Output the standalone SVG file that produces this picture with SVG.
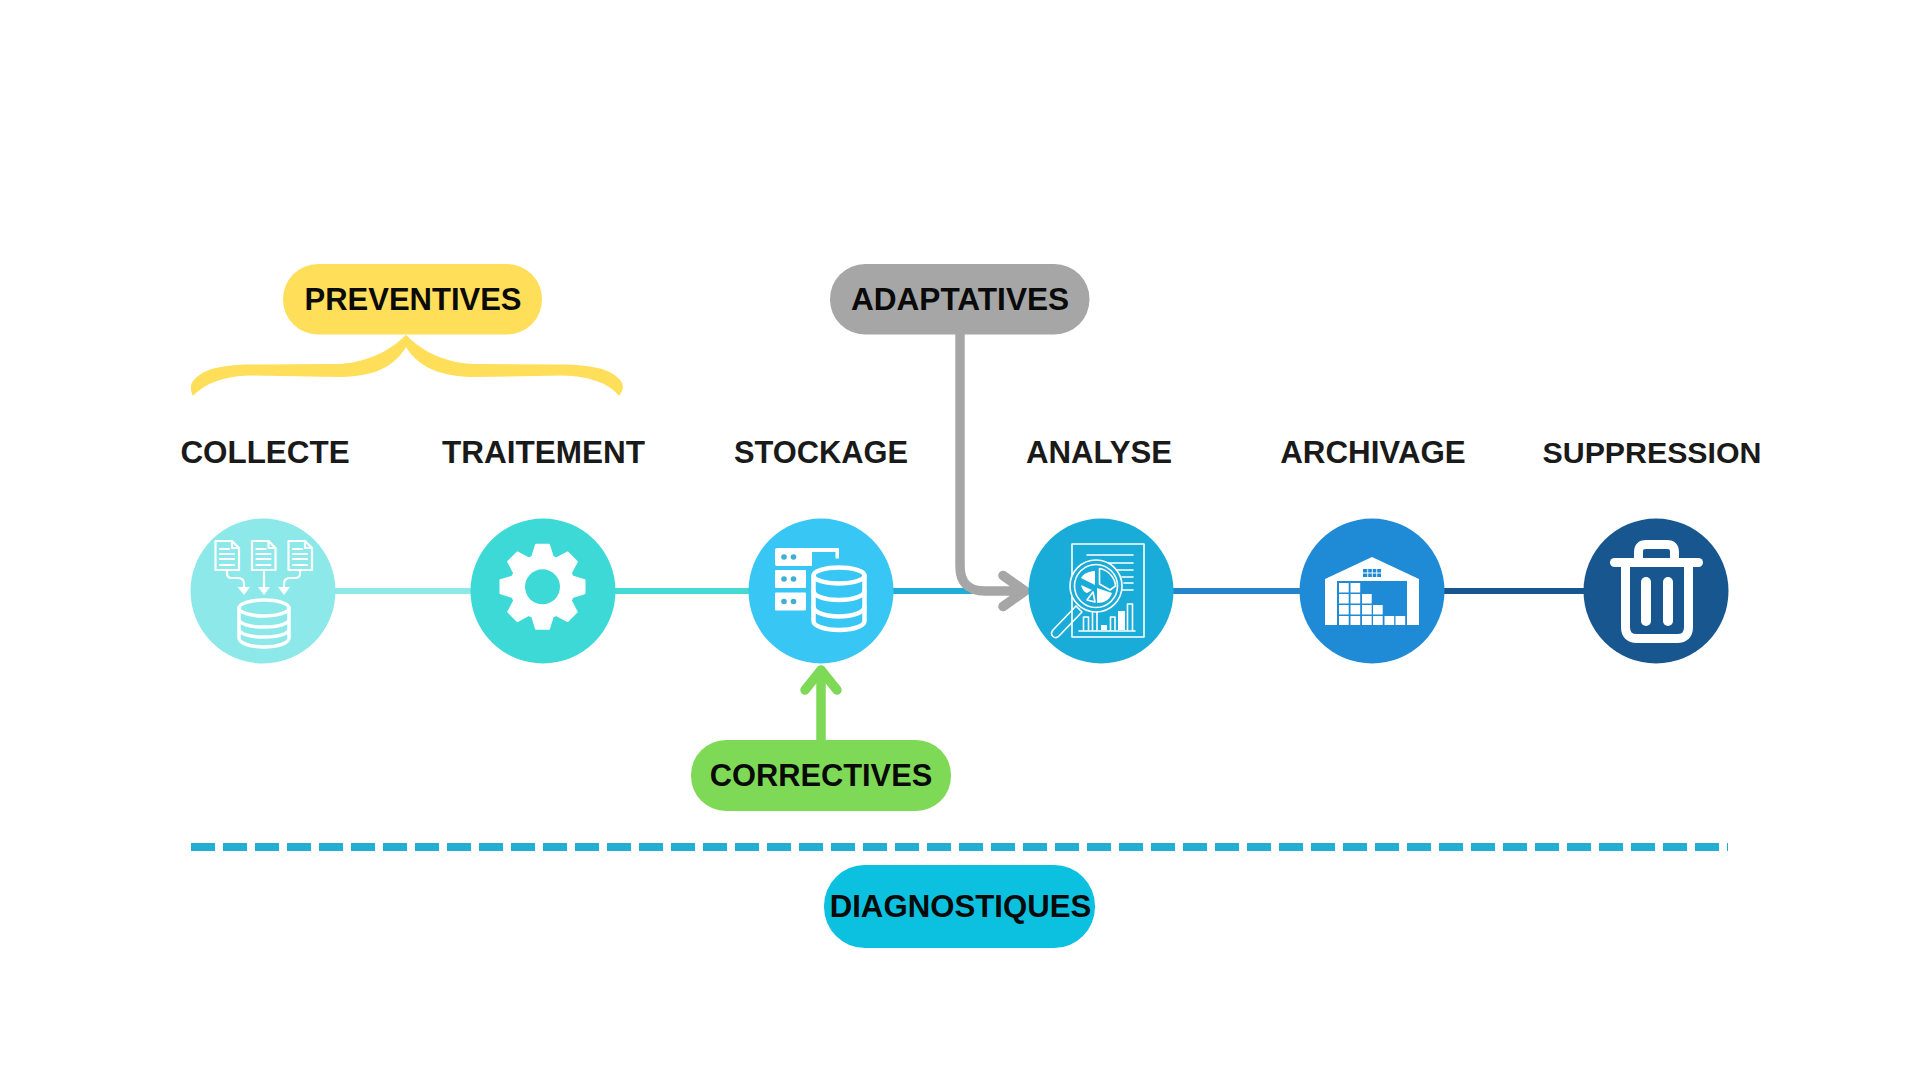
<svg xmlns="http://www.w3.org/2000/svg" xmlns:xlink="http://www.w3.org/1999/xlink" width="1920" height="1080" viewBox="0 0 1920 1080">
<defs>
<style>
text{font-family:"Liberation Sans",Arial,sans-serif;font-weight:700;text-anchor:middle}
.lbl{fill:#1a1a1a}
.pill{fill:#0a0a0a}
.w{fill:#fff}
.o{fill:none;stroke:#fff;stroke-linecap:round;stroke-linejoin:round}
.seg{fill:none;stroke-width:6}
.arr{fill:none;stroke-linecap:round;stroke-linejoin:round;stroke-width:9.500}
</style>
</defs>
<rect width="1920" height="1080" fill="#fff"/>
<g id="connectors">
<path class="seg" stroke="#8DE9E9" d="M263 591H543"/>
<path class="seg" stroke="#45D9D6" d="M543 591H821"/>
<path class="seg" stroke="#1FACD6" d="M821 591H1101"/>
<path class="seg" stroke="#2585CC" d="M1101 591H1372"/>
<path class="seg" stroke="#17568F" d="M1372 591H1656"/>
<path class="arr" stroke="#A6A6A6" d="M960 334V566Q960 591 985 591H1024M1003 575.500L1025 591L1003 606.500"/>
<path class="arr" stroke="#7ED957" stroke-linecap="butt" d="M821 741V672"/>
<path class="arr" stroke="#7ED957" d="M805 690L821 670L837 690"/>
<path fill="none" stroke="#22AED1" stroke-width="8" stroke-dasharray="24 8" d="M191 847H1728"/>
</g>
<g id="brace-preventives">
<path fill="#FFDE59" d="M193 396C190 390 190 384 194 380C204 368 224 365 250 364.500L337 364C365 363 389 352 406 335C423 352 445 363 475 364L562 364.500C590 365 610 368 620 380C624 384 624 390 619 396C610 384 590 376 562 375.500L475 377C450 377 421 372 406 347C391 372 365 377 337 377L250 375.500C224 376 204 384 193 396Z"/>
</g>
<g id="pill-preventives">
<rect x="283" y="264" width="259" height="70.500" rx="35" fill="#FFDE59"/>
<text class="pill" x="413" y="310" font-size="31">PREVENTIVES</text>
</g>
<g id="pill-adaptatives">
<rect x="830" y="264" width="259.500" height="70.500" rx="35" fill="#A6A6A6"/>
<text class="pill" x="960" y="310" font-size="31.600">ADAPTATIVES</text>
</g>
<g id="pill-correctives">
<rect x="691" y="740" width="260" height="71" rx="35" fill="#7ED957"/>
<text class="pill" x="821" y="786" font-size="30.800">CORRECTIVES</text>
</g>
<g id="pill-diagnostiques">
<rect x="824" y="865" width="271" height="83" rx="41" fill="#0CC0DF"/>
<text class="pill" x="960.500" y="917" font-size="31.200">DIAGNOSTIQUES</text>
</g>
<g id="node-collecte">
<text class="lbl" x="265" y="463" font-size="31.400">COLLECTE</text>
<circle cx="263" cy="591" r="72.500" fill="#8DE9E9"/>
<g class="o" stroke-width="2.200">
<g id="doc">
<path d="M215.500 541H232L239 548V570H215.500Z"/>
<path d="M232 541V548H239M220 549H229M220 554H234M220 559H234M220 565H234"/>
</g>
<use xlink:href="#doc" x="36.500"/>
<use xlink:href="#doc" x="73"/>
<path d="M227 570V574Q227 578 232 578H238Q244 578 244 584V588M264 570V588M300 570V574Q300 578 295 578H290Q284 578 284 584V588"/>
</g>
<path class="w" d="M237.500 587H250L244 595ZM258 587H270L264 595ZM278 587H290L284 595Z"/>
<g class="o" stroke-width="3.500">
<ellipse cx="264" cy="608" rx="25" ry="8"/>
<path d="M239 608V638C239 643 250 647 264 647S289 643 289 638V608M239 619C239 624 250 627 264 627S289 624 289 619M239 629C239 634 250 637 264 637S289 634 289 629"/>
</g>
</g>
<g id="node-traitement">
<text class="lbl" x="543.500" y="463" font-size="31.500">TRAITEMENT</text>
<circle cx="543" cy="591" r="72.500" fill="#3DD9D6"/>
<g transform="translate(542.500 586.800)">
<circle r="32.500" class="w"/>
<g class="w" stroke="#fff" stroke-width="2" stroke-linejoin="round">
<polygon id="tooth" points="-6.500,-42 6.500,-42 10.500,-29 -10.500,-29"/>
<use xlink:href="#tooth" transform="rotate(45)"/>
<use xlink:href="#tooth" transform="rotate(90)"/>
<use xlink:href="#tooth" transform="rotate(135)"/>
<use xlink:href="#tooth" transform="rotate(180)"/>
<use xlink:href="#tooth" transform="rotate(225)"/>
<use xlink:href="#tooth" transform="rotate(270)"/>
<use xlink:href="#tooth" transform="rotate(315)"/>
</g>
<circle r="17.500" fill="#3DD9D6"/>
</g>
</g>
<g id="node-stockage">
<text class="lbl" x="821" y="463" font-size="30.800">STOCKAGE</text>
<circle cx="821" cy="591" r="72.500" fill="#38C6F4"/>
<path class="w" d="M777 548H838Q839 548 839 549V558.500H835.500V552H812V566H777Q775 566 775 564V550Q775 548 777 548Z"/>
<rect class="w" x="775" y="570" width="31" height="18" rx="1"/>
<rect class="w" x="775" y="592.500" width="31" height="18" rx="1"/>
<g fill="#3FB0D4">
<circle cx="784" cy="557" r="2.800"/><circle cx="793.500" cy="557" r="2.800"/>
<circle cx="784" cy="579" r="2.800"/><circle cx="793.500" cy="579" r="2.800"/>
<circle cx="784" cy="601.500" r="2.800"/><circle cx="793.500" cy="601.500" r="2.800"/>
</g>
<g stroke-width="4.500" class="o">
<path fill="#38C6F4" stroke="#38C6F4" stroke-width="8" d="M812 576C812 570 825 565 839 565S866 570 866 576V621C866 627 853 632 839 632S812 627 812 621Z"/>
<ellipse cx="839" cy="575.500" rx="25.500" ry="8"/>
<path d="M813.500 575.500V621C813.500 626 825 630 839 630S864.500 626 864.500 621V575.500"/>
<path d="M813.500 591C813.500 596 825 600 839 600S864.500 596 864.500 591M813.500 607C813.500 612 825 616.500 839 616.500S864.500 612 864.500 607"/>
</g>
</g>
<g id="node-analyse">
<text class="lbl" x="1099" y="463" font-size="31.200">ANALYSE</text>
<circle cx="1101" cy="591" r="72.500" fill="#1AACD8"/>
<g class="o" stroke-width="1.600" stroke-linecap="butt">
<rect x="1072" y="544" width="72" height="93"/>
<path d="M1087 555H1133M1107 563H1133M1117 570H1133M1122 577H1133M1124 583H1133M1121 590H1133M1079 631H1135"/>
<path d="M1083.500 630V617H1088.500V630M1092.500 630V610H1097V630M1110.500 630V617H1115V630M1127.500 630V604H1132.500V630"/>
<rect x="1101" y="625" width="6" height="5" class="w" stroke="none"/>
<rect x="1118" y="611" width="7" height="19" class="w" stroke="none"/>
<circle cx="1096" cy="586" r="26" fill="#1AACD8"/>
<circle cx="1096" cy="586" r="21.500"/>
<path d="M1076 606L1053 630Q1050 634 1053 636.500Q1056 639 1059 636L1082 612M1076 606L1082 612"/>
<path d="M1099.500 568.500C1108 570 1115 577 1115.500 586L1110 590L1099.500 584Z"/>
<path d="M1093 592L1095 602L1087 600Z"/>
</g>
<path class="w" d="M1081 578C1084 573 1090 571 1095 571V585ZM1081 585L1092 590L1087 593C1084 592 1082 589 1081 585ZM1097 588L1112 593C1110 600 1104 603 1097 603Z"/>
</g>
<g id="node-archivage">
<text class="lbl" x="1373" y="463" font-size="31.300">ARCHIVAGE</text>
<circle cx="1372" cy="591" r="72.500" fill="#1F8AD6"/>
<path class="w" d="M1325 579L1372 557L1419 579V625H1325Z"/>
<rect x="1337" y="581" width="70" height="44" fill="#1F8AD6"/>
<rect x="1363" y="569" width="18" height="8" fill="#1F8AD6"/>
<path class="w" d="M1367.300 569h.9v8h-.9zM1371.800 569h.9v8h-.9zM1376.300 569h.9v8h-.9zM1363 572.600h18v.9h-18z"/>
<g class="w">
<rect x="1339" y="583" width="9.700" height="9.500"/><rect x="1350.500" y="583" width="9.700" height="9.500"/>
<rect x="1339" y="594" width="9.700" height="9.500"/><rect x="1350.500" y="594" width="9.700" height="9.500"/><rect x="1362" y="594" width="9.700" height="9.500"/>
<rect x="1339" y="605" width="9.700" height="9.500"/><rect x="1350.500" y="605" width="9.700" height="9.500"/><rect x="1362" y="605" width="9.700" height="9.500"/><rect x="1373" y="605" width="9.700" height="9.500"/>
<rect x="1339" y="616" width="9.700" height="9"/><rect x="1350.500" y="616" width="9.700" height="9"/><rect x="1362" y="616" width="9.700" height="9"/><rect x="1373" y="616" width="9.700" height="9"/><rect x="1384.500" y="616" width="9.700" height="9"/><rect x="1395.500" y="616" width="9.700" height="9"/>
</g>
</g>
<g id="node-suppression">
<text class="lbl" x="1652" y="463" font-size="30.300">SUPPRESSION</text>
<circle cx="1656" cy="591" r="72.500" fill="#17568F"/>
<path fill="none" stroke="#fff" stroke-width="9" d="M1638.500 560V552Q1638.500 544.500 1646 544.500H1667Q1674.500 544.500 1674.500 552V560"/>
<rect class="w" x="1610" y="558" width="93" height="9" rx="4.500"/>
<path fill="none" stroke="#fff" stroke-width="9" d="M1625.500 562V627Q1625.500 638.500 1637 638.500H1677Q1688.500 638.500 1688.500 627V562"/>
<rect class="w" x="1641" y="577" width="10" height="49" rx="5"/>
<rect class="w" x="1663" y="577" width="10" height="49" rx="5"/>
</g>
</svg>
